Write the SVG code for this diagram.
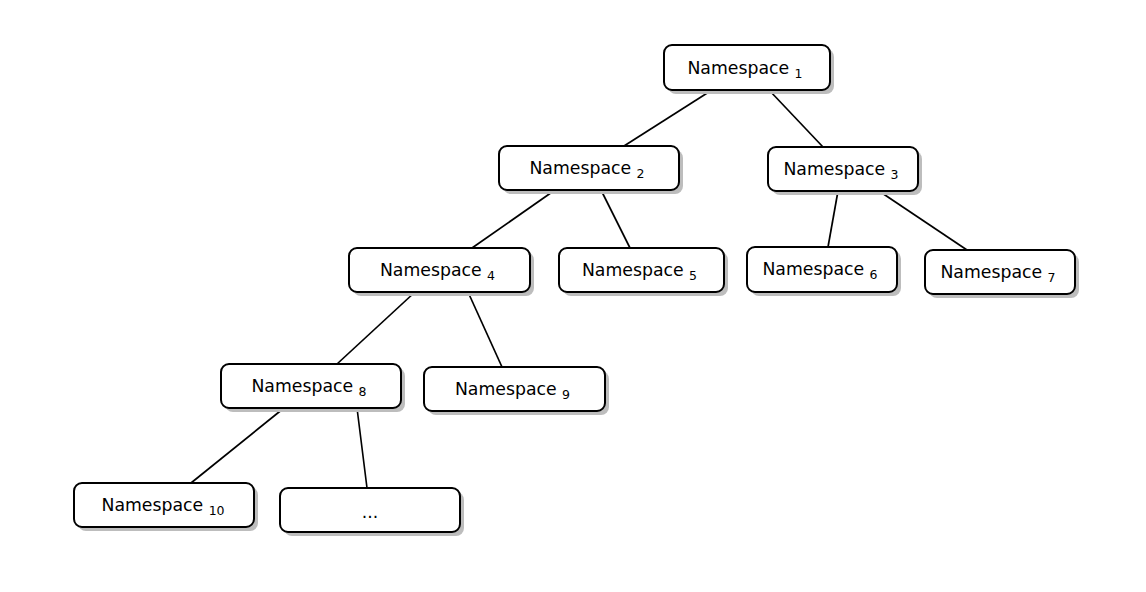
<svg xmlns="http://www.w3.org/2000/svg" width="1146" height="592" viewBox="0 0 1146 592">
<style>
.shadow{fill:#bdbdbd;stroke:none}
.box{fill:#fff;stroke:#000;stroke-width:2}
.lbl{font-family:"DejaVu Sans","Liberation Sans",sans-serif;font-size:17.3px;fill:#000;text-anchor:middle}
.sub{font-size:12.5px}
.edge{stroke:#000;stroke-width:1.7;fill:none}
</style>
<rect width="1146" height="592" fill="#fff"/>
<g id="connectors">
<line class="edge" x1="712" y1="90" x2="624" y2="146"/>
<line class="edge" x1="769" y1="90" x2="823" y2="147"/>
<line class="edge" x1="555" y1="190" x2="472" y2="248"/>
<line class="edge" x1="601" y1="190" x2="630" y2="248"/>
<line class="edge" x1="838" y1="191" x2="828" y2="247"/>
<line class="edge" x1="879" y1="191" x2="967" y2="250"/>
<line class="edge" x1="415" y1="292" x2="337" y2="364"/>
<line class="edge" x1="468" y1="292" x2="502" y2="367"/>
<line class="edge" x1="284" y1="408" x2="191" y2="483"/>
<line class="edge" x1="357" y1="408" x2="367" y2="488"/>
</g>
<g id="n1">
<rect class="shadow" x="668" y="49" width="166" height="45" rx="8"/>
<rect class="box" x="664" y="45" width="166" height="45" rx="8"/>
<text class="lbl" x="745" y="74">Namespace <tspan class="sub" dy="4">1</tspan></text>
</g>
<g id="n2">
<rect class="shadow" x="503" y="150" width="180" height="44" rx="8"/>
<rect class="box" x="499" y="146" width="180" height="44" rx="8"/>
<text class="lbl" x="587" y="174">Namespace <tspan class="sub" dy="4">2</tspan></text>
</g>
<g id="n3">
<rect class="shadow" x="772" y="151" width="150" height="44" rx="8"/>
<rect class="box" x="768" y="147" width="150" height="44" rx="8"/>
<text class="lbl" x="841" y="175">Namespace <tspan class="sub" dy="4">3</tspan></text>
</g>
<g id="n4">
<rect class="shadow" x="353" y="252" width="181" height="44" rx="8"/>
<rect class="box" x="349" y="248" width="181" height="44" rx="8"/>
<text class="lbl" x="437.5" y="276">Namespace <tspan class="sub" dy="4">4</tspan></text>
</g>
<g id="n5">
<rect class="shadow" x="563" y="252" width="165" height="44" rx="8"/>
<rect class="box" x="559" y="248" width="165" height="44" rx="8"/>
<text class="lbl" x="639.5" y="276">Namespace <tspan class="sub" dy="4">5</tspan></text>
</g>
<g id="n6">
<rect class="shadow" x="751" y="251" width="150" height="45" rx="8"/>
<rect class="box" x="747" y="247" width="150" height="45" rx="8"/>
<text class="lbl" x="820" y="275">Namespace <tspan class="sub" dy="4">6</tspan></text>
</g>
<g id="n7">
<rect class="shadow" x="929" y="254" width="150" height="44" rx="8"/>
<rect class="box" x="925" y="250" width="150" height="44" rx="8"/>
<text class="lbl" x="998" y="278">Namespace <tspan class="sub" dy="4">7</tspan></text>
</g>
<g id="n8">
<rect class="shadow" x="225" y="368" width="180" height="44" rx="8"/>
<rect class="box" x="221" y="364" width="180" height="44" rx="8"/>
<text class="lbl" x="309" y="392">Namespace <tspan class="sub" dy="4">8</tspan></text>
</g>
<g id="n9">
<rect class="shadow" x="428" y="371" width="181" height="44" rx="8"/>
<rect class="box" x="424" y="367" width="181" height="44" rx="8"/>
<text class="lbl" x="512.5" y="395">Namespace <tspan class="sub" dy="4">9</tspan></text>
</g>
<g id="n10">
<rect class="shadow" x="78" y="487" width="180" height="44" rx="8"/>
<rect class="box" x="74" y="483" width="180" height="44" rx="8"/>
<text class="lbl" x="163" y="511">Namespace <tspan class="sub" dy="4">10</tspan></text>
</g>
<g id="n11">
<rect class="shadow" x="284" y="492" width="180" height="44" rx="8"/>
<rect class="box" x="280" y="488" width="180" height="44" rx="8"/>
<text class="lbl" x="370" y="518">...</text>
</g>
</svg>
